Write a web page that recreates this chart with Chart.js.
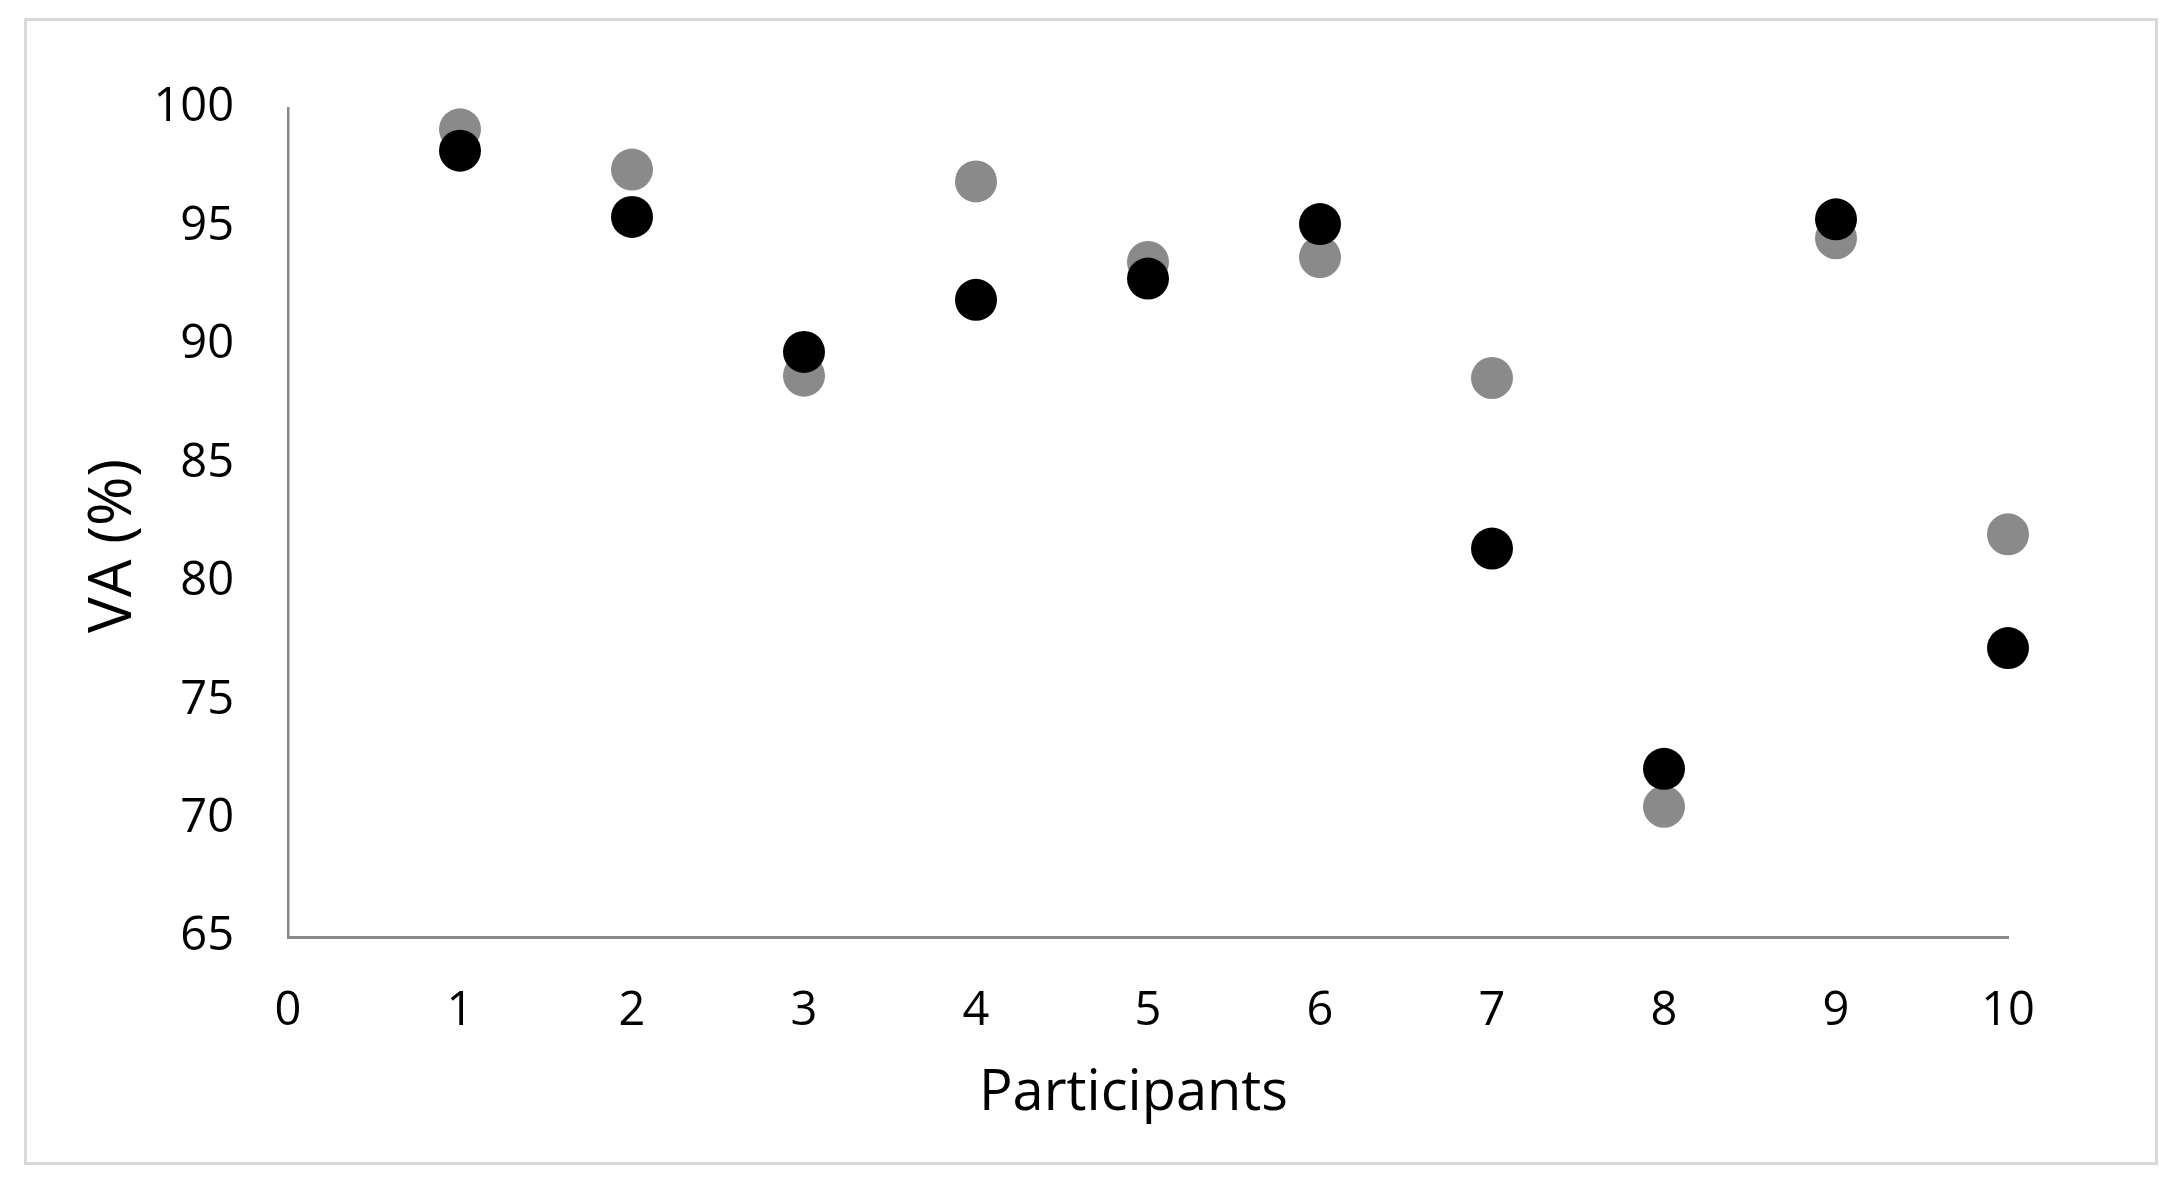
<!DOCTYPE html>
<html>
<head>
<meta charset="utf-8">
<script src="https://cdn.jsdelivr.net/npm/chart.js@4"></script>
<style>
  body { margin: 0; background: #fff; }
  #wrap { position: relative; width: 2180px; height: 1194px; }
  #frame { position: absolute; left: 24px; top: 18px; width: 2128px; height: 1141px; border: 3px solid #d9d9d9; pointer-events: none; }
</style>
</head>
<body>
<div id="wrap">
  <canvas id="chart" width="2180" height="1194"></canvas>
  <div id="frame"></div>
</div>
<script>
const participants = [1, 2, 3, 4, 5, 6, 7, 8, 9, 10];
const grayValues = [99.1, 97.4, 88.7, 96.9, 93.5, 93.7, 88.6, 70.5, 94.5, 82.0];
const blackValues = [98.2, 95.4, 89.7, 91.9, 92.8, 95.1, 81.4, 72.1, 95.3, 77.2];
// trailing spaces nudge the centred titles the way the original sits
const xTitle = 'Participants  ';
const yTitle = 'VA (%)   ';

function toPoints(values) {
  return values.map((v, i) => ({ x: participants[i], y: v }));
}

function createChart() {
  Chart.defaults.font.family = "'Open Sans', sans-serif";
  Chart.defaults.color = '#000';

  new Chart(document.getElementById('chart'), {
    type: 'scatter',
    data: {
      datasets: [
        {
          label: 'black',
          data: toPoints(blackValues),
          backgroundColor: '#000',
          borderWidth: 0,
          pointRadius: 21,
          clip: false,
          order: 1
        },
        {
          label: 'gray',
          data: toPoints(grayValues),
          backgroundColor: '#8a8a8a',
          borderWidth: 0,
          pointRadius: 21,
          clip: false,
          order: 2
        }
      ]
    },
    options: {
      responsive: false,
      animation: false,
      layout: { padding: { left: 40, top: 108, right: 172, bottom: 40 } },
      plugins: { legend: { display: false }, tooltip: { enabled: false } },
      scales: {
        x: {
          type: 'linear',
          min: 0,
          max: 10,
          grid: { display: false, drawTicks: false },
          border: { display: true, color: '#888', width: 3 },
          ticks: { stepSize: 1, padding: 46, font: { size: 47 } },
          title: { display: true, text: xTitle, font: { size: 56 }, padding: { top: 0, bottom: 26 } },
          afterFit: function (scale) { scale.height = 217; }
        },
        y: {
          min: 65,
          max: 100,
          grid: { display: false, drawTicks: false },
          border: { display: true, color: '#888', width: 2.5 },
          ticks: { stepSize: 5, padding: 54, font: { size: 47 } },
          title: { display: true, text: yTitle, font: { size: 60 }, padding: { top: 38, bottom: 0 } },
          afterFit: function (scale) { scale.width = 248; }
        }
      }
    }
  });
}

document.addEventListener('DOMContentLoaded', createChart);
</script>
</body>
</html>
